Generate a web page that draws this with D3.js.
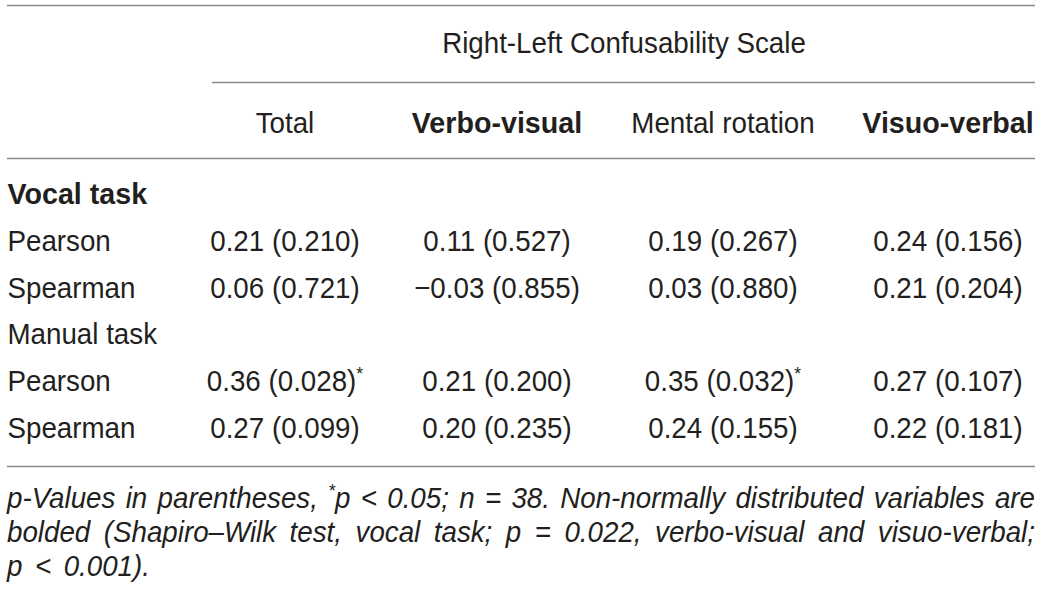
<!DOCTYPE html>
<html>
<head>
<meta charset="utf-8">
<script src="https://cdn.jsdelivr.net/npm/d3@7"></script>
<style>
html,body{margin:0;padding:0;background:#fff;}
svg{display:block;}
text{font-family:"Liberation Sans",Arial,Helvetica,sans-serif;fill:#231f20;}
</style>
</head>
<body>
<svg id="chart" width="1041" height="589"></svg>
<script>
// ---- data ----
const spanner = "Right-Left Confusability Scale";
const columns = ["Total", "Verbo-visual", "Mental rotation", "Visuo-verbal"];
const boldColumns = ["Verbo-visual", "Visuo-verbal"];
const rowLabels = ["Vocal task", "Pearson", "Spearman", "Manual task", "Pearson", "Spearman"];
const boldRows = ["Vocal task"];
const rValues = [
  null,
  [0.21, 0.11, 0.19, 0.24],
  [0.06, -0.03, 0.03, 0.21],
  null,
  [0.36, 0.21, 0.35, 0.27],
  [0.27, 0.20, 0.24, 0.22]
];
const pValues = [
  null,
  [0.210, 0.527, 0.267, 0.156],
  [0.721, 0.855, 0.880, 0.204],
  null,
  [0.028, 0.200, 0.032, 0.107],
  [0.099, 0.235, 0.155, 0.181]
];
const alpha = 0.05;
const footLines = [
  "p-Values in parentheses, *p < 0.05; n = 38. Non-normally distributed variables are",
  "bolded (Shapiro–Wilk test, vocal task; p = 0.022, verbo-visual and visuo-verbal;",
  "p < 0.001)."
];

// ---- layout ----
const SX = 0.925, SXB = 0.955, FS = 30;
const svg = d3.select("#chart");
const left = 7, right = 1035;
const x = d3.scaleOrdinal().domain(columns).range([285, 497, 723, 948]);
const y = d3.scalePoint().domain(d3.range(rowLabels.length)).range([204, 438]);
const fmtR = d3.format(".2f"), fmtP = d3.format(".3f");

function txt(g, xx, yy, s, anchor, weight, style) {
  const sx = weight === "bold" ? SXB : SX;
  const t = g.append("text")
    .attr("transform", `translate(${xx},${yy}) scale(${sx},1)`)
    .attr("text-anchor", anchor || "start")
    .attr("font-size", FS)
    .attr("font-weight", weight || "normal")
    .attr("font-style", style || "normal");
  if (typeof s === "string") t.text(s);
  return t;
}

// rules
const rules = [
  {x1: left, x2: right, y: 5.5},
  {x1: 212, x2: right, y: 82.5},
  {x1: left, x2: right, y: 158.5},
  {x1: left, x2: right, y: 466.5}
];
svg.selectAll("line.rule").data(rules).join("line")
  .attr("class", "rule")
  .attr("x1", d => d.x1).attr("x2", d => d.x2)
  .attr("y1", d => d.y).attr("y2", d => d.y)
  .attr("stroke", "#8a8a8a").attr("stroke-width", 1.3);

// header
txt(svg, 624, 53, spanner, "middle");
columns.forEach(c => {
  txt(svg, x(c), 133, c, "middle", boldColumns.includes(c) ? "bold" : "normal");
});

// row labels
rowLabels.forEach((lab, i) => {
  txt(svg, left + 0.5, y(i), lab, "start", boldRows.includes(lab) ? "bold" : "normal");
});

// cells
rValues.forEach((row, i) => {
  if (!row) return;
  row.forEach((v, j) => {
    const p = pValues[i][j];
    const t = txt(svg, x(columns[j]), y(i), null, "middle");
    t.append("tspan").text(`${fmtR(v)} (${fmtP(p)})`);
    if (p < alpha) {
      t.append("tspan").attr("font-size", 19).attr("dy", -11).text("*");
    }
  });
});

// footnote (justified)
const footBase = [508, 542, 576];
const fg = svg.append("g");
footLines.forEach((line, li) => {
  const words = line.split(" ");
  const nodes = words.map(w => {
    const t = txt(fg, 0, footBase[li], null, "start", "normal", "italic");
    if (w.startsWith("*")) {
      t.append("tspan").attr("font-size", 19).attr("dy", -11).text("*");
      t.append("tspan").attr("dy", 11).text(w.slice(1));
    } else {
      t.text(w);
    }
    return t;
  });
  const widths = nodes.map(n => n.node().getComputedTextLength() * SX);
  const total = d3.sum(widths);
  const last = li === footLines.length - 1;
  const spaceW = 12.5;
  const gap = last ? spaceW : (right - left - total) / (words.length - 1);
  let cx = left;
  nodes.forEach((n, k) => {
    n.attr("transform", `translate(${cx},${footBase[li]}) scale(${SX},1)`);
    cx += widths[k] + gap;
  });
});
</script>
</body>
</html>
